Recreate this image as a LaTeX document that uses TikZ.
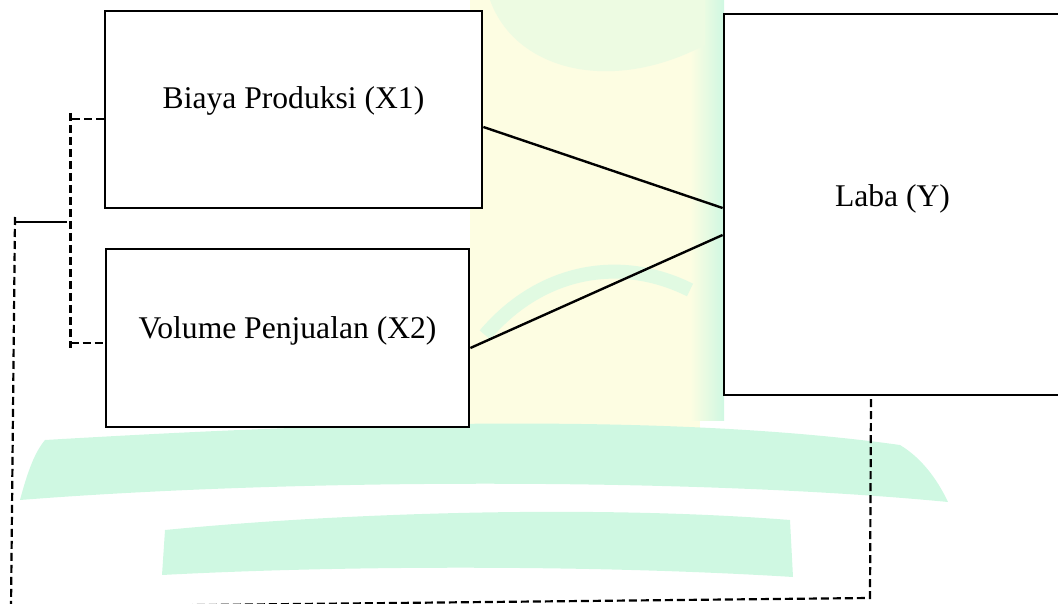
\documentclass[tikz,border=0pt]{standalone}
\usepackage{fontspec}
\setmainfont{Liberation Serif}
\definecolor{wmyellow}{HTML}{FDFDE2}
\definecolor{wmmint}{HTML}{CFF8E2}
\begin{document}
\begin{tikzpicture}[x=1pt,y=-1pt,
  box/.style={draw, line width=2.8pt, fill=white, inner sep=0pt},
  lbl/.style={font=\fontsize{31.6}{38}\selectfont, anchor=base, inner sep=0pt},
  link/.style={line width=2.4pt},
  dashlink/.style={line width=2.2pt, dash pattern=on 8pt off 4pt}]
\useasboundingbox (0,0) rectangle (1058,604);
\clip (0,0) rectangle (1058,604);

% faint background emblem
\fill[wmyellow] (470,0) rectangle (700,430);
\shade[left color=wmyellow, right color=wmmint] (690,0) rectangle (724,420);
\fill[wmmint!35!wmyellow] (490,0) .. controls (515,70) and (610,95) .. (705,45) -- (705,0) -- cycle;
\draw[wmmint!60!wmyellow, line width=14pt] (485,335) .. controls (540,270) and (620,255) .. (690,290);
\fill[wmmint] (20,500) .. controls (28,470) and (35,452) .. (45,440)
  .. controls (300,425) and (650,410) .. (900,445)
  .. controls (925,460) and (940,485) .. (948,502)
  .. controls (700,478) and (300,478) .. cycle;
\fill[wmmint] (162,575) -- (165,530) .. controls (350,512) and (600,505) .. (790,520)
  -- (793,577) .. controls (600,565) and (350,565) .. cycle;

% variable boxes
\node[box, minimum width=377pt, minimum height=197pt] (x1) at (293.5,109.5) {};
\node[box, minimum width=363pt, minimum height=178pt] (x2) at (287.5,338) {};
\node[box, minimum width=338pt, minimum height=381pt] (y) at (893,204.5) {};
\node[lbl] (tx1) at (293.5,109) {Biaya Produksi (X1)};
\node[lbl] (tx2) at (287.5,338) {Volume Penjualan (X2)};
\node[lbl] (ty) at (892.5,207) {Laba (Y)};

% partial effects
\draw[link] ([yshift=-17.5pt]x1.east) -- ([yshift=-3.5pt]y.west);
\draw[link] ([yshift=-10pt]x2.east) -- ([yshift=-30.5pt]y.west);

% joint effect bracket
\coordinate (bt) at (70.5,119);
\coordinate (bb) at (70.5,343);
\draw[dashlink] ([yshift=-9.5pt]x1.west) -- (bt);
\draw[dashlink] (70.5,113) -- (70.5,348);
\draw[dashlink] (bb) -- ([yshift=-5pt]x2.west);
\coordinate (jm) at (67,222);
\coordinate (jl) at (15,222);
\draw[link] (jm) -- (jl);
\coordinate (jt) at (15,217);
\coordinate (jb) at (11,607);
\coordinate (jr) at (870,598);
\draw[dashlink] (jt) -- (jb) -- (jr) -- ([xshift=-22pt]y.south);
\end{tikzpicture}
\end{document}
